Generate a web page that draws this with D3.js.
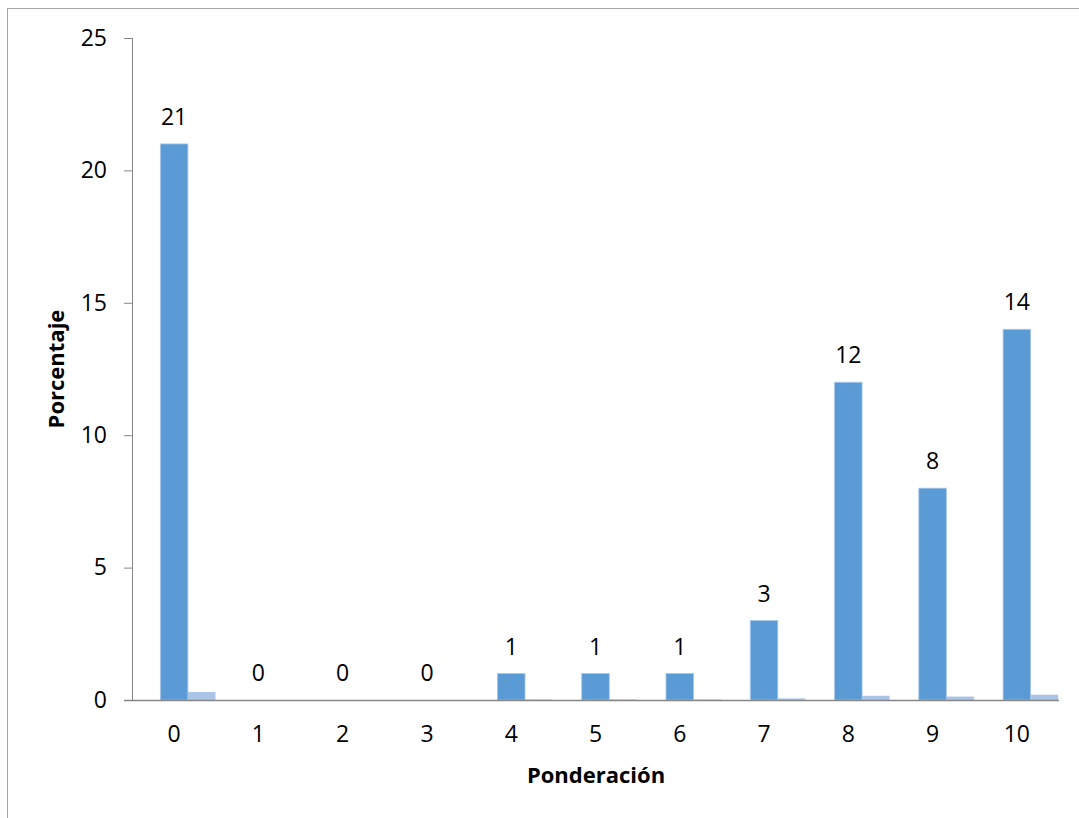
<!DOCTYPE html>
<html><head><meta charset="utf-8">
<script src="https://cdn.jsdelivr.net/npm/d3@7"></script>
<style>
body{margin:0;background:#fff;}
text{font-family:"Open Sans",Calibri,sans-serif;}
</style></head>
<body>
<svg id="c" width="1079" height="818"></svg>
<script>
const categories = ["0","1","2","3","4","5","6","7","8","9","10"];
const mainValues = [21,0,0,0,1,1,1,3,12,8,14];
const secondValues = [0.3,0,0,0,0.02,0.02,0.02,0.06,0.16,0.13,0.2];
const yTicks = [0,5,10,15,20,25];

(function(){
const svg = d3.select("#c");
const mLeft = 132, mRight = 1059, mTop = 38, mBottom = 700;
const fs = 23;

svg.append("rect").attr("x",7.5).attr("y",8.5).attr("width",1100).attr("height",900)
  .attr("fill","none").attr("stroke","#a6a6a6").attr("stroke-width",1);

const x = d3.scaleBand().domain(categories).range([mLeft,mRight]);
const y = d3.scaleLinear().domain([0,25]).range([mBottom,mTop]);
const bw = x.bandwidth()*0.327;

// y axis
const ya = svg.append("g").attr("transform",`translate(${mLeft},0)`)
  .call(d3.axisLeft(y).tickValues(yTicks).tickSize(8).tickPadding(17));
ya.select(".domain").attr("stroke","#868686").attr("d",`M0.5,${mTop}V${mBottom}`);
ya.selectAll(".tick line").attr("stroke","#868686");
ya.selectAll(".tick text").attr("font-size",fs).attr("fill","#000")
  .style("font-family","'Open Sans',sans-serif");

// bars
svg.append("g").selectAll("rect").data(categories).join("rect")
  .attr("x",(d)=>x(d)+x.bandwidth()/2-bw/2)
  .attr("width",bw)
  .attr("y",(d,i)=>y(mainValues[i]))
  .attr("height",(d,i)=>mBottom-y(mainValues[i]))
  .attr("fill","#5b9bd5").attr("stroke","#a9c8ea").attr("stroke-width",0.8);

svg.append("g").selectAll("rect").data(categories).join("rect")
  .attr("x",(d)=>x(d)+x.bandwidth()/2+bw/2)
  .attr("width",bw)
  .attr("y",(d,i)=>y(secondValues[i]))
  .attr("height",(d,i)=>mBottom-y(secondValues[i]))
  .attr("fill","#a9c4e6");

// x axis
const xa = svg.append("g").attr("transform",`translate(0,${mBottom})`)
  .call(d3.axisBottom(x).tickSize(0).tickPadding(26));
xa.select(".domain").attr("stroke","#868686").attr("stroke-width",1.5).attr("d",`M${mLeft-8},0.5H${mRight}`);
xa.selectAll(".tick text").attr("font-size",fs).attr("fill","#000")
  .style("font-family","'Open Sans',sans-serif");

// labels
svg.append("g").selectAll("text").data(categories).join("text")
  .attr("x",(d)=>x(d)+x.bandwidth()/2)
  .attr("y",(d,i)=>y(mainValues[i])-19)
  .attr("text-anchor","middle").attr("font-size",fs).attr("fill","#000")
  .text((d,i)=>mainValues[i]);

// axis titles
svg.append("text").attr("x",596).attr("y",783).attr("text-anchor","middle")
  .attr("font-size",22).attr("font-weight","bold").text("Ponderación");
svg.append("text").attr("transform","translate(64,369) rotate(-90)").attr("text-anchor","middle")
  .attr("font-size",22).attr("font-weight","bold").text("Porcentaje");
})();
</script>
</body></html>
